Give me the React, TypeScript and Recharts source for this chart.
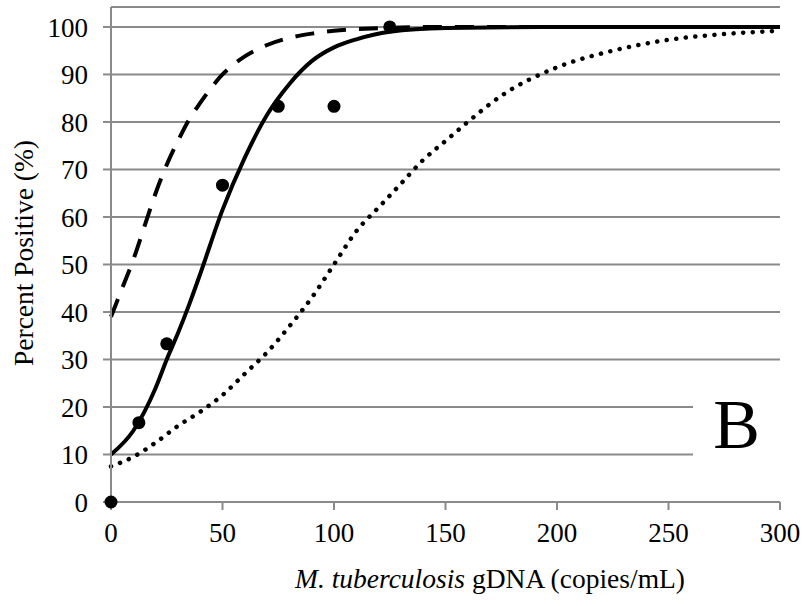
import { ComposedChart, Line, Scatter, XAxis, YAxis, CartesianGrid, ReferenceArea } from 'recharts';

// observed detection rates
const sampleX = [0, 12.5, 25, 50, 75, 100, 125];
const sampleY = [0, 16.7, 33.3, 66.7, 83.3, 83.3, 100];

// fitted curves
const solidX = [0, 10, 20, 25, 30, 35, 40, 50, 60, 70, 80, 90, 100, 110, 125, 150, 200, 300];
const solidY = [10, 15, 24, 30, 35.5, 41.5, 48, 61.5, 72.5, 81.5, 88, 92.8, 95.7, 97.4, 99, 99.8, 100, 100];

const dashedX = [0, 5, 10, 15, 20, 25, 30, 35, 40, 50, 60, 70, 80, 90, 100, 125, 150, 300];
const dashedY = [39, 45, 51, 58, 65, 71, 76, 80.5, 84, 90, 93.8, 96.2, 97.7, 98.6, 99.2, 99.8, 100, 100];

const dottedX = [0, 10, 20, 30, 40, 50, 60, 70, 80, 90, 100, 110, 120, 130, 140, 150, 160, 175, 200, 225, 250, 275, 300];
const dottedY = [7.5, 9.5, 12.5, 16, 19, 22.5, 27, 31.5, 37, 43, 50, 57, 62, 67, 72, 76, 80, 85.5, 91.5, 95, 97.3, 98.5, 99.2];

const xTicks = [0, 50, 100, 150, 200, 250, 300];
const yTicks = [0, 10, 20, 30, 40, 50, 60, 70, 80, 90, 100];

const zip = (xs: number[], ys: number[]) => xs.map((x, i) => ({ x, y: ys[i] }));

const FONT = 'Liberation Serif';
const GRID = '#8a8a8a';

export default function App() {
    const samples = zip(sampleX, sampleY);
    const solid = zip(solidX, solidY);
    const dashed = zip(dashedX, dashedY);
    const dotted = zip(dottedX, dottedY);

    const tickStyle = { fontSize: 27, fill: '#000', style: { fontFamily: FONT } };

    return (
        <div style={{ position: 'absolute', left: 0, top: 0, background: '#fff', fontFamily: FONT }}>
            <ComposedChart width={804} height={606} margin={{ top: 7, right: 24, bottom: 64, left: 51 }} style={{ fontFamily: FONT }}>
                <CartesianGrid vertical={false} stroke={GRID} strokeWidth={2} />
                <XAxis
                    type="number"
                    dataKey="x"
                    domain={[0, 300]}
                    ticks={xTicks}
                    height={40}
                    stroke={GRID}
                    strokeWidth={2}
                    tickSize={8}
                    tickMargin={13}
                    tick={tickStyle}
                    label={{
                        content: () => (
                            <text x={490} y={588} textAnchor="middle" fontSize={27.5} style={{ fontFamily: FONT }} fill="#000">
                                <tspan fontStyle="italic">M. tuberculosis</tspan>
                                <tspan> gDNA (copies/mL)</tspan>
                            </text>
                        ),
                    }}
                />
                <YAxis
                    type="number"
                    dataKey="y"
                    domain={[0, 104.2]}
                    ticks={yTicks}
                    width={60}
                    stroke={GRID}
                    strokeWidth={2}
                    tickSize={8}
                    tickMargin={15}
                    tick={tickStyle}
                    label={{
                        content: () => (
                            <text x={33} y={253} transform="rotate(-90 33 253)" textAnchor="middle" fontSize={27.5} style={{ fontFamily: FONT }} fill="#000">
                                Percent Positive (%)
                            </text>
                        ),
                    }}
                />
                <ReferenceArea
                    x1={261}
                    x2={300}
                    y1={1.5}
                    y2={27}
                    fill="#fff"
                    fillOpacity={1}
                    stroke="none"
                    label={{
                        content: (props: any) => {
                            const vb = props.viewBox || {};
                            const cx = vb.x + vb.width / 2;
                            return (
                                <text x={cx} y={448} textAnchor="middle" fontSize={70} style={{ fontFamily: FONT }} fill="#000">
                                    B
                                </text>
                            );
                        },
                    }}
                />
                <Line data={dotted} dataKey="y" type="monotone" stroke="#000" strokeWidth={4.5} strokeDasharray="0.1 9.5" strokeLinecap="round" dot={false} isAnimationActive={false} />
                <Line data={dashed} dataKey="y" type="monotone" stroke="#000" strokeWidth={4} strokeDasharray="19 13" dot={false} isAnimationActive={false} />
                <Line data={solid} dataKey="y" type="monotone" stroke="#000" strokeWidth={4} dot={false} isAnimationActive={false} />
                <Scatter
                    data={samples}
                    dataKey="y"
                    fill="#000"
                    isAnimationActive={false}
                    shape={(p: any) => <circle cx={p.cx} cy={p.cy} r={6.5} fill="#000" />}
                />
            </ComposedChart>
        </div>
    );
}
